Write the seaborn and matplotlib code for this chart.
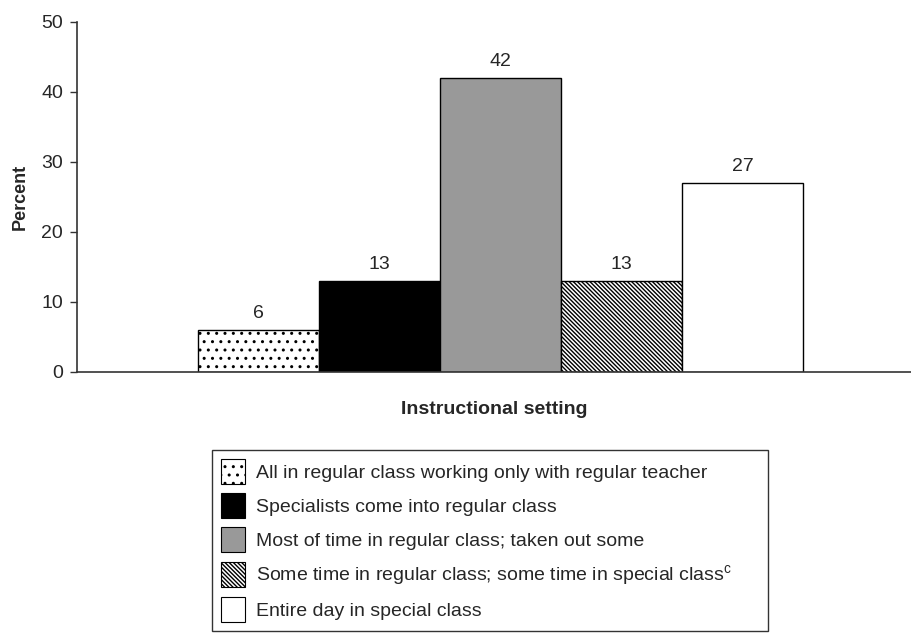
import pandas as pd
import seaborn as sns
import matplotlib.pyplot as plt
from matplotlib.patches import Patch

# data
settings = ["All in regular class working only with regular teacher",
            "Specialists come into regular class",
            "Most of time in regular class; taken out some",
            "Some time in regular class; some time in special class$^{\\mathrm{c}}$",
            "Entire day in special class"]
percent = [6, 13, 42, 13, 27]

# styling per bar
colors = ["white", "black", "#999999", "white", "white"]
hatches = ["..", "", "", "\\" * 8, ""]

sns.set_style("ticks")
plt.rcParams['font.family'] = ['Liberation Sans', 'DejaVu Sans']
plt.rcParams['mathtext.fontset'] = 'custom'
plt.rcParams['mathtext.rm'] = 'Liberation Sans'
plt.rcParams['hatch.linewidth'] = 1.0
plt.rcParams['hatch.color'] = 'black'

df = pd.DataFrame({"group": ["all"] * len(settings),
                   "setting": settings,
                   "percent": percent})

fig = plt.figure(figsize=(9.12, 6.35), dpi=100)
ax = fig.add_axes([0.0844, 0.4142, 0.9156, 0.5512])

sns.barplot(data=df, x="group", y="percent", hue="setting", hue_order=settings,
            palette=colors, saturation=1, edgecolor="black", linewidth=1,
            width=0.8, legend=False, ax=ax)

for cont, h in zip(ax.containers, hatches):
    for p in cont:
        p.set_hatch(h)
    ax.bar_label(cont, padding=6, fontsize=14)

ax.set_ylim(0, 50)
ax.set_yticks([0, 10, 20, 30, 40, 50])
ax.set_xlim(-0.56, 0.544)
ax.set_xticks([])
ax.tick_params(axis="y", labelsize=14, length=5, width=1, pad=5, color="#333333")
ax.set_ylabel("Percent", fontsize=13, fontweight="bold", labelpad=9)
ax.set_xlabel("Instructional setting", fontsize=14, fontweight="bold", labelpad=21)
for s in ["top", "right"]:
    ax.spines[s].set_visible(False)
for s in ["left", "bottom"]:
    ax.spines[s].set_color("#333333")
    ax.spines[s].set_linewidth(1.2)

# legend box below the axes, its top edge at about y=450 px
handles = [Patch(facecolor=c, edgecolor="black", hatch=h, linewidth=0.8)
           for c, h in zip(colors, hatches)]
leg = fig.legend(handles, settings, loc="upper left",
                 bbox_to_anchor=(0.2325, 0.2813, 0.6096, 0.01), mode="expand",
                 fontsize=14, frameon=True, fancybox=False, edgecolor="black",
                 handlelength=1.25, handleheight=1.6, labelspacing=0.48,
                 borderpad=0.45, handletextpad=0.55, borderaxespad=0)
leg.get_frame().set_linewidth(1)

fig.savefig("out.png", dpi=100)
